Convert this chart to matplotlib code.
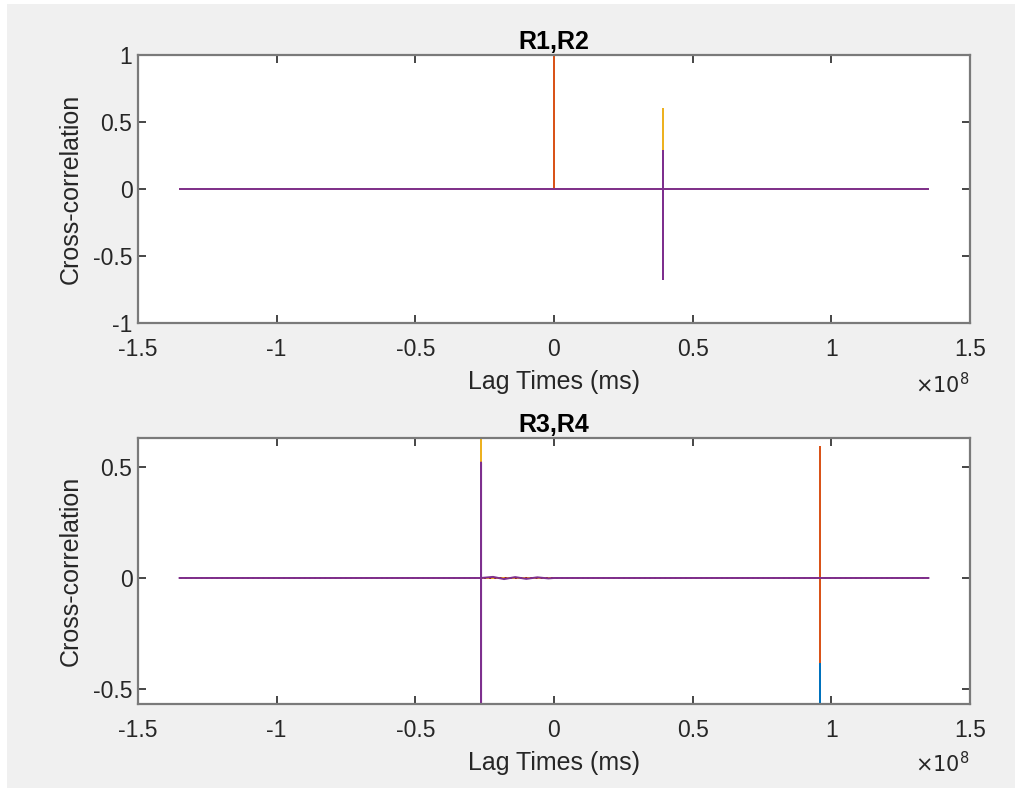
import matplotlib
matplotlib.use("Agg")
import matplotlib.pyplot as plt
from matplotlib.patches import Rectangle

# ---------------- data ----------------
lag_min, lag_max = -1.35e8, 1.35e8

# R1,R2 panel
r12_orange_lag = [lag_min, 0.0, 0.0, 0.0, lag_max]
r12_orange_val = [0.0, 0.0, 1.0, 0.0, 0.0]
r12_yellow_lag = [lag_min, 0.393e8, 0.393e8, 0.393e8, lag_max]
r12_yellow_val = [0.0, 0.0, 0.60, 0.0, 0.0]
r12_purple_lag = [lag_min, 0.393e8, 0.393e8, 0.393e8, 0.393e8, lag_max]
r12_purple_val = [0.0, 0.0, 0.28, -0.67, 0.0, 0.0]

# R3,R4 panel
r34_blue_lag = [lag_min, 0.959e8, 0.959e8, 0.959e8, lag_max]
r34_blue_val = [0.0, 0.0, -0.57, 0.0, 0.0]
r34_orange_lag = [lag_min, 0.959e8, 0.959e8, 0.959e8, 0.959e8, lag_max]
r34_orange_val = [0.0, 0.0, 0.59, -0.38, 0.0, 0.0]
r34_yellow_lag = [lag_min, -0.263e8, -0.263e8, -0.263e8, lag_max]
r34_yellow_val = [0.0, 0.0, 0.63, 0.0, 0.0]
r34_red_lag = [lag_min, lag_max]
r34_red_val = [0.0, 0.0]
r34_purple_lag = [lag_min, -0.263e8, -0.263e8, -0.263e8, -0.263e8, -0.22e8,
                  -0.18e8, -0.14e8, -0.10e8, -0.06e8, -0.02e8, 0.0, lag_max]
r34_purple_val = [0.0, 0.0, 0.52, -0.60, 0.0, 0.005, -0.005, 0.004,
                  -0.004, 0.003, -0.002, 0.0, 0.0]

xticks = [-1.5e8, -1e8, -0.5e8, 0, 0.5e8, 1e8, 1.5e8]
xtick_labels = ["-1.5", "-1", "-0.5", "0", "0.5", "1", "1.5"]
top_yticks = [-1, -0.5, 0, 0.5, 1]
top_ytick_labels = ["-1", "-0.5", "0", "0.5", "1"]
bot_yticks = [-0.5, 0, 0.5]
bot_ytick_labels = ["-0.5", "0", "0.5"]

# ---------------- style ----------------
BLUE, ORANGE, YELLOW, PURPLE, RED = "#0072BD", "#D95319", "#EDB120", "#7E2F8E", "#A2142F"
plt.rcParams['font.family'] = ['Liberation Sans', 'DejaVu Sans']

W, H = 1015, 796
fig = plt.figure(figsize=(W / 100, H / 100), dpi=100, facecolor="white")
fig.patches.append(Rectangle((7 / W, 8 / H), 1 - 7 / W, 1 - 12 / H,
                             transform=fig.transFigure, facecolor="#f0f0f0",
                             edgecolor="none", zorder=-10))

left = 138 / W
width = (970 - 138) / W
ax1 = fig.add_axes([left, 1 - 323 / H, width, (323 - 55) / H])
ax2 = fig.add_axes([left, 1 - 704 / H, width, (704 - 438) / H])

spine_col = "#7a7a7a"
tick_fs = 16.5
label_fs = 18


def style(ax, yt, ytl, ylim, title):
    ax.set_facecolor("white")
    ax.set_xlim(-1.5e8, 1.5e8)
    ax.set_ylim(*ylim)
    ax.set_xticks(xticks)
    ax.set_xticklabels(xtick_labels)
    ax.set_yticks(yt)
    ax.set_yticklabels(ytl)
    ax.tick_params(direction="in", top=True, right=True, length=6, width=1.2,
                   colors="#262626", labelcolor="#262626", labelsize=tick_fs)
    ax.tick_params(axis="x", pad=11)
    ax.tick_params(axis="y", pad=4)
    for s in ax.spines.values():
        s.set_color(spine_col)
        s.set_linewidth(1.6)
    ax.set_title(title, fontsize=label_fs, fontweight="bold", color="black", pad=4)
    ax.set_xlabel("Lag Times (ms)", fontsize=label_fs, color="#262626", labelpad=6)
    ax.set_ylabel("Cross-correlation", fontsize=label_fs, color="#262626", labelpad=7)
    ax.text(1.0, -0.262 if ylim[1] - ylim[0] > 1.5 else -0.258, r"$\times10^{8}$",
            transform=ax.transAxes, ha="right", va="baseline", fontsize=15,
            color="#262626")


lw = 1.4
ax1.plot(r12_orange_lag, r12_orange_val, color=ORANGE, lw=lw)
ax1.plot(r12_yellow_lag, r12_yellow_val, color=YELLOW, lw=lw)
ax1.plot(r12_purple_lag, r12_purple_val, color=PURPLE, lw=lw)
style(ax1, top_yticks, top_ytick_labels, (-1, 1), "R1,R2")

ax2.plot(r34_blue_lag, r34_blue_val, color=BLUE, lw=lw)
ax2.plot(r34_orange_lag, r34_orange_val, color=ORANGE, lw=lw)
ax2.plot(r34_yellow_lag, r34_yellow_val, color=YELLOW, lw=lw)
ax2.plot(r34_red_lag, r34_red_val, color=RED, lw=lw, ls=":")
ax2.plot(r34_purple_lag, r34_purple_val, color=PURPLE, lw=lw)
style(ax2, bot_yticks, bot_ytick_labels, (-0.568, 0.631), "R3,R4")

fig.savefig("out.png", dpi=100, facecolor=fig.get_facecolor())
